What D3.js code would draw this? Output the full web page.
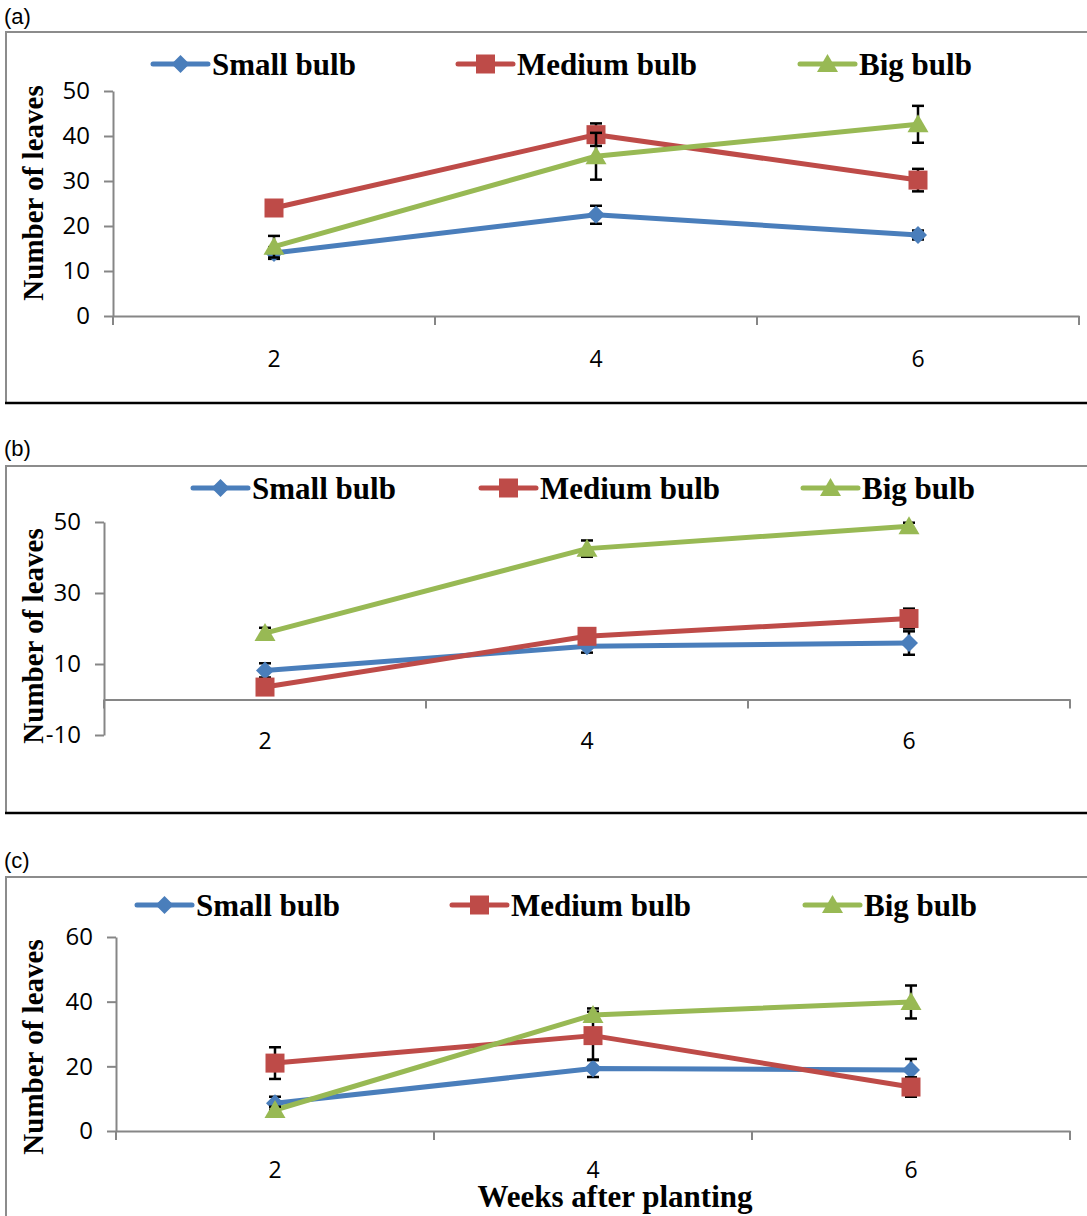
<!DOCTYPE html>
<html>
<head>
<meta charset="utf-8">
<script src="https://cdn.jsdelivr.net/npm/d3@7"></script>
<style>
  html, body { margin: 0; padding: 0; background: #fff; }
  svg { display: block; }
</style>
</head>
<body>
<svg id="chart" width="1087" height="1216"></svg>
<script>
// Weeks after planting (category axis)
const weeks = ['2', '4', '6'];
const seriesNames = ['Small bulb', 'Medium bulb', 'Big bulb'];

// Panel (a)
const smallA = [14, 22.5, 18];
const smallErrA = [1.3, 2, 1];
const mediumA = [24, 40.3, 30.2];
const mediumErrA = [0.5, 2.5, 2.5];
const bigA = [15.4, 35.5, 42.6];
const bigErrA = [2.4, 5.2, 4.1];
const yTicksA = [0, 10, 20, 30, 40, 50];

// Panel (b)
const smallB = [8.2, 15, 15.9];
const smallErrB = [2, 1.8, 3.3];
const mediumB = [3.5, 17.8, 22.8];
const mediumErrB = [0.5, 1, 2.8];
const bigB = [18.7, 42.5, 48.8];
const bigErrB = [1.5, 2.3, 1];
const yTicksB = [-10, 10, 30, 50];

// Panel (c)
const smallC = [8.6, 19.3, 18.9];
const smallErrC = [2, 2.6, 3.4];
const mediumC = [21, 29.5, 13.6];
const mediumErrC = [4.9, 7.4, 3];
const bigC = [6.5, 35.9, 39.9];
const bigErrC = [1, 2, 5.1];
const yTicksC = [0, 20, 40, 60];

const colors = ['#4A7EBB', '#BE4B48', '#98B954'];
const shapes = ['diamond', 'square', 'triangle'];

const svg = d3.select('#chart');
const serif = "'Liberation Serif', 'Times New Roman', serif";
const sans = "'Open Sans', 'Liberation Sans', sans-serif";

// Layout of each panel (pixel boxes only, values come from the arrays above)
const panels = [
  {
    label: '(a)', labelY: 24, frameTop: 32, frameBottom: 403,
    left: 113, right: 1079, yTop: 91, yBottom: 316, domain: [0, 50], ticks: yTicksA,
    xLabelY: 359, titleY: 193, legendY: 64, legendX: [153, 458, 800],
    data: [[smallA, smallErrA], [mediumA, mediumErrA], [bigA, bigErrA]]
  },
  {
    label: '(b)', labelY: 456, frameTop: 466, frameBottom: 813,
    left: 104, right: 1070, yTop: 522, yBottom: 735, domain: [-10, 50], ticks: yTicksB,
    xLabelY: 741, titleY: 636, legendY: 488, legendX: [193, 481, 803],
    data: [[smallB, smallErrB], [mediumB, mediumErrB], [bigB, bigErrB]]
  },
  {
    label: '(c)', labelY: 868, frameTop: 877, frameBottom: null,
    left: 116, right: 1070, yTop: 937, yBottom: 1131, domain: [0, 60], ticks: yTicksC,
    xLabelY: 1170, titleY: 1047, legendY: 905, legendX: [137, 452, 805],
    data: [[smallC, smallErrC], [mediumC, mediumErrC], [bigC, bigErrC]]
  }
];

// Marker path centred on 0,0
function markerPath(shape) {
  if (shape === 'diamond') return 'M0,-9L9,0L0,9L-9,0Z';
  if (shape === 'square') return 'M-9.5,-9.5H9.5V9.5H-9.5Z';
  return 'M0,-10L10.5,8L-10.5,8Z';
}

panels.forEach((p) => {
  const g = svg.append('g');

  // Chart area frame: grey left/top, dark bottom edge
  g.append('line')
    .attr('x1', 5).attr('x2', 1087).attr('y1', p.frameTop).attr('y2', p.frameTop)
    .attr('stroke', '#8c8c8c').attr('stroke-width', 2);
  g.append('line')
    .attr('x1', 6).attr('x2', 6).attr('y1', p.frameTop)
    .attr('y2', p.frameBottom === null ? 1216 : p.frameBottom)
    .attr('stroke', '#8c8c8c').attr('stroke-width', 2);
  if (p.frameBottom !== null) {
    g.append('line')
      .attr('x1', 5).attr('x2', 1087).attr('y1', p.frameBottom).attr('y2', p.frameBottom)
      .attr('stroke', '#000').attr('stroke-width', 2.5);
  }

  g.append('text')
    .attr('x', 4).attr('y', p.labelY)
    .attr('font-family', "'Liberation Sans', Arial, sans-serif")
    .attr('font-size', 22)
    .text(p.label);

  const x = d3.scaleBand().domain(weeks).range([p.left, p.right]);
  const y = d3.scaleLinear().domain(p.domain).range([p.yBottom, p.yTop]);
  const cx = (w) => x(w) + x.bandwidth() / 2;
  const y0 = y(0);

  // Value axis (plain hyphen for negatives, as in the original)
  const yAxis = g.append('g')
    .attr('transform', `translate(${p.left},0)`)
    .call(d3.axisLeft(y).tickValues(p.ticks).tickSize(9).tickSizeOuter(0).tickPadding(14)
      .tickFormat((d) => String(d)));
  yAxis.select('.domain').attr('stroke', '#868686').attr('stroke-width', 2);
  yAxis.selectAll('.tick line').attr('stroke', '#868686').attr('stroke-width', 2);
  yAxis.selectAll('.tick text')
    .attr('font-family', sans).attr('font-size', 24).attr('fill', '#000');

  // Category axis crossing at zero
  const xAxis = g.append('g')
    .attr('transform', `translate(0,${y0})`)
    .call(d3.axisBottom(x).tickSize(0).tickSizeOuter(0).tickFormat(''));
  xAxis.select('.domain').attr('stroke', '#868686').attr('stroke-width', 2);
  const bounds = [p.left].concat(weeks.map((w) => x(w) + x.bandwidth()));
  g.selectAll('.xtick')
    .data(bounds)
    .join('line')
    .attr('x1', (d) => d).attr('x2', (d) => d)
    .attr('y1', y0).attr('y2', y0 + 9)
    .attr('stroke', '#868686').attr('stroke-width', 2);
  g.selectAll('.xlab')
    .data(weeks)
    .join('text')
    .attr('x', (d) => cx(d))
    .attr('y', p.xLabelY)
    .attr('dy', '0.36em')
    .attr('text-anchor', 'middle')
    .attr('font-family', sans).attr('font-size', 23)
    .text((d) => d);

  // Y axis title
  g.append('text')
    .attr('transform', `translate(43,${p.titleY}) rotate(-90)`)
    .attr('text-anchor', 'middle')
    .attr('font-family', serif).attr('font-weight', 'bold').attr('font-size', 29)
    .text('Number of leaves');

  // Series: line, error bars, markers
  const line = d3.line().x((d) => cx(d.w)).y((d) => y(d.v));
  p.data.forEach(([vals, errs], i) => {
    const pts = weeks.map((w, k) => ({ w: w, v: vals[k], e: errs[k] }));
    g.append('path')
      .datum(pts)
      .attr('d', line)
      .attr('fill', 'none')
      .attr('stroke', colors[i])
      .attr('stroke-width', 5)
      .attr('stroke-linejoin', 'round');

    const eb = g.append('g').selectAll('g').data(pts).join('g');
    eb.append('line')
      .attr('x1', (d) => cx(d.w)).attr('x2', (d) => cx(d.w))
      .attr('y1', (d) => y(d.v - d.e)).attr('y2', (d) => y(d.v + d.e))
      .attr('stroke', '#000').attr('stroke-width', 2.5);
    [-1, 1].forEach((s) => {
      eb.append('line')
        .attr('x1', (d) => cx(d.w) - 6).attr('x2', (d) => cx(d.w) + 6)
        .attr('y1', (d) => y(d.v + s * d.e)).attr('y2', (d) => y(d.v + s * d.e))
        .attr('stroke', '#000').attr('stroke-width', 2.5);
    });

    g.append('g').selectAll('path')
      .data(pts)
      .join('path')
      .attr('transform', (d) => `translate(${cx(d.w)},${y(d.v)})`)
      .attr('d', markerPath(shapes[i]))
      .attr('fill', colors[i]);
  });

  // Legend
  const lg = g.append('g');
  seriesNames.forEach((name, i) => {
    const lx = p.legendX[i];
    lg.append('line')
      .attr('x1', lx).attr('x2', lx + 55)
      .attr('y1', p.legendY).attr('y2', p.legendY)
      .attr('stroke', colors[i]).attr('stroke-width', 5).attr('stroke-linecap', 'round');
    lg.append('path')
      .attr('transform', `translate(${lx + 27.5},${p.legendY})`)
      .attr('d', markerPath(shapes[i]))
      .attr('fill', colors[i]);
    lg.append('text')
      .attr('x', lx + 59).attr('y', p.legendY + 10.5)
      .attr('font-family', serif).attr('font-weight', 'bold').attr('font-size', 31)
      .text(name);
  });
});

// X axis title, bottom panel only
svg.append('text')
  .attr('x', 615).attr('y', 1207)
  .attr('text-anchor', 'middle')
  .attr('font-family', serif).attr('font-weight', 'bold').attr('font-size', 31)
  .text('Weeks after planting');
</script>
</body>
</html>
